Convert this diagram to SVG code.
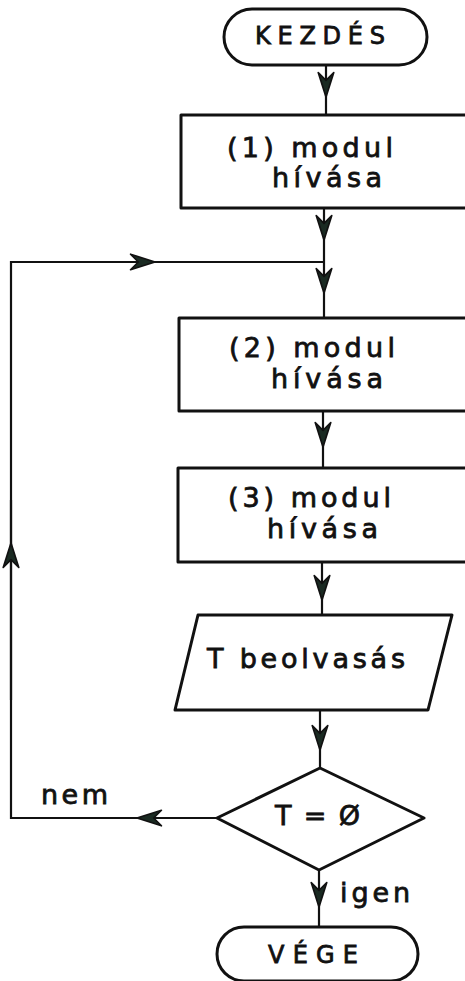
<svg xmlns="http://www.w3.org/2000/svg" width="465" height="981" viewBox="0 0 465 981">
<style>
.shape{fill:#fff;stroke:#111;stroke-width:3;stroke-linejoin:round}
.conn{fill:none;stroke:#111;stroke-width:2.2;marker-mid:url(#arr)}
text{font-family:"DejaVu Sans","Liberation Sans",sans-serif;fill:#111;stroke:#111;stroke-width:0.8;font-weight:normal}
.t{font-size:27px}
.cap{font-size:24px}
</style>
<defs>
<marker id="arr" markerUnits="userSpaceOnUse" markerWidth="30" markerHeight="20" viewBox="-24 -9 26 18" refX="0" refY="0" orient="auto">
<path d="M0,0 L-22,-7 L-15,0 L-22,7 Z" fill="#1a2a22" stroke="#111" stroke-width="1.5" stroke-linejoin="round"/>
</marker>
</defs>
<rect width="465" height="981" fill="#fff"/>
<g id="connectors">
<path class="conn" d="M326,65 L326,97 L326,115"/>
<path class="conn" d="M324,208 L324,240 L324,262"/>
<path class="conn" d="M324,262 L324,293 L324,318"/>
<path class="conn" d="M323,411 L323,447 L323,468"/>
<path class="conn" d="M322,562 L322,600 L322,615"/>
<path class="conn" d="M320,710 L320,750 L320,768"/>
<path class="conn" d="M319,870 L319,907 L319,927"/>
<path class="conn" d="M217,818 L137,818 L11,818 L11,543 L11,262 L155,262 L324,262" style="marker-mid:none"/>
<path class="conn" d="M217,818 L137,818 L120,818"/>
<path class="conn" d="M11,700 L11,543 L11,500"/>
<path class="conn" d="M100,262 L155,262 L200,262"/>
<text x="41" y="804" class="t" textLength="67" lengthAdjust="spacing">nem</text>
<text x="340" y="902" class="t" textLength="70" lengthAdjust="spacing">igen</text>
</g>
<g id="start">
<rect class="shape" x="224" y="9" width="203" height="56" rx="28"/>
<text x="255" y="44" class="cap" textLength="130" lengthAdjust="spacing">KEZDÉS</text>
</g>
<g id="module1">
<rect class="shape" x="181" y="115" width="290" height="93"/>
<text x="227" y="157" class="t" textLength="166" lengthAdjust="spacing">(1) modul</text>
<text x="272" y="187" class="t" textLength="110" lengthAdjust="spacing">hívása</text>
</g>
<g id="module2">
<rect class="shape" x="179" y="318" width="292" height="93"/>
<text x="229" y="357" class="t" textLength="166" lengthAdjust="spacing">(2) modul</text>
<text x="271" y="388" class="t" textLength="112" lengthAdjust="spacing">hívása</text>
</g>
<g id="module3">
<rect class="shape" x="178" y="468" width="293" height="94"/>
<text x="228" y="507" class="t" textLength="163" lengthAdjust="spacing">(3) modul</text>
<text x="267" y="538" class="t" textLength="111" lengthAdjust="spacing">hívása</text>
</g>
<g id="read">
<polygon class="shape" points="198,615 452,615 428,710 175,710"/>
<text x="207" y="668" class="t" textLength="198" lengthAdjust="spacing">T beolvasás</text>
</g>
<g id="decision">
<polygon class="shape" points="320,768 424,818 319,870 217,818"/>
<text x="275" y="825" class="t" textLength="85" lengthAdjust="spacing">T = Ø</text>
</g>
<g id="end">
<rect class="shape" x="217" y="927" width="201" height="54" rx="27"/>
<text x="268" y="963" class="cap" textLength="90" lengthAdjust="spacing">VÉGE</text>
</g>
</svg>
